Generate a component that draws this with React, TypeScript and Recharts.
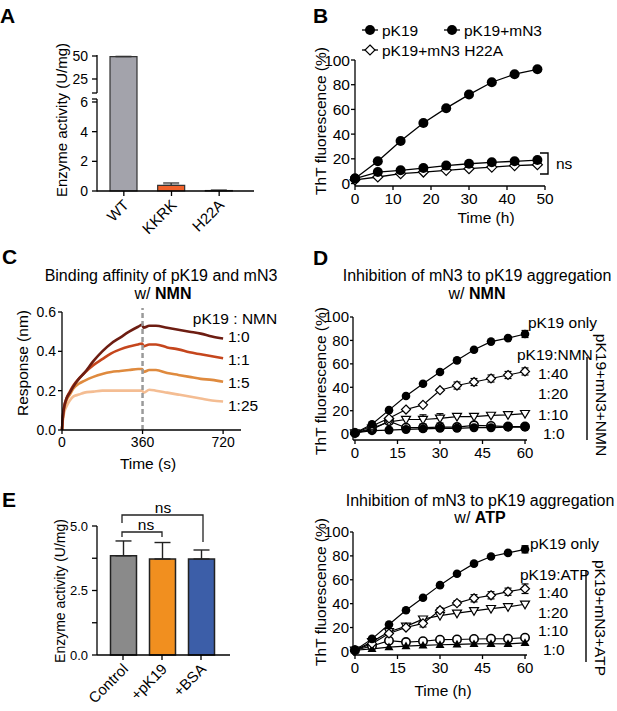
import React from 'react'
import { BarChart, Bar, Cell, XAxis, YAxis, ErrorBar, LineChart, Line, ReferenceLine } from 'recharts'

const FONT = '"Liberation Sans", Arial, Helvetica, sans-serif'

// ---- A: enzyme activity (broken y axis) ----
const aLabels = ['WT', 'KKRK', 'H22A']
const aValues = [49.3, 0.38, 0.03]
const aErrors = [0.3, 0.16, 0.03]
const aColors = ['#a3a3ab', '#f0612a', '#d0d0d0']
const aTicks = [0, 2, 4, 6, 25, 50]

// ---- B: ThT fluorescence ----
const bTime = [0, 6, 12, 18, 24, 30, 36, 42, 48]
const bPK19 = [4, 18, 34.5, 49, 61, 72, 82, 88.5, 92.5]
const bMN3 = [4, 9.3, 10.7, 12.5, 14.5, 16, 17.2, 18, 19]
const bH22A = [3, 5.3, 8, 9.3, 10.7, 12, 13.3, 14.5, 15.2]

// ---- C: binding response ----
const cTime = [0, 4, 10, 20, 35, 50, 75, 100, 140, 180, 220, 260, 300, 340, 358, 365, 390, 420, 470, 520, 570, 620, 670, 720]
const c10 = [0, 0.07, 0.12, 0.16, 0.19, 0.22, 0.26, 0.29, 0.35, 0.4, 0.44, 0.47, 0.5, 0.525, 0.535, 0.52, 0.53, 0.53, 0.52, 0.51, 0.5, 0.49, 0.475, 0.465]
const c11 = [0, 0.07, 0.12, 0.16, 0.195, 0.225, 0.26, 0.29, 0.33, 0.36, 0.39, 0.41, 0.425, 0.435, 0.44, 0.425, 0.435, 0.435, 0.42, 0.41, 0.395, 0.385, 0.375, 0.365]
const c15 = [0, 0.06, 0.11, 0.15, 0.18, 0.21, 0.235, 0.25, 0.27, 0.285, 0.295, 0.3, 0.305, 0.31, 0.31, 0.295, 0.305, 0.305, 0.29, 0.28, 0.27, 0.26, 0.255, 0.245]
const c125 = [0, 0.05, 0.09, 0.12, 0.15, 0.17, 0.18, 0.19, 0.195, 0.2, 0.2, 0.2, 0.2, 0.2, 0.2, 0.19, 0.205, 0.2, 0.19, 0.18, 0.17, 0.16, 0.15, 0.145]

// ---- D: inhibition with NMN / ATP ----
const dTime = [0, 6, 12, 18, 24, 30, 36, 42, 48, 54, 60]
const nOnly = [1, 8.5, 20.5, 32.5, 43, 53, 63, 72, 79, 82, 85.5]
const nOnlyErr = [0, 0, 0, 0, 0, 0, 0, 0, 0, 1, 3]
const n40 = [1, 7, 13.5, 21, 25, 37.5, 41.5, 44.5, 47.5, 50.5, 53.5]
const n40Err = [0, 0, 0, 0, 0, 1, 3, 3, 3, 3, 3]
const n20 = [1, 5, 10.5, 12.5, 12.5, 13.5, 15, 15, 16, 16.5, 17.5]
const n20Err = [0, 0, 0, 0, 4, 4, 0, 0, 0, 0, 0]
const n10 = [1, 4, 11, 5.5, 5.5, 6, 6, 7.5, 7, 6.5, 6.5]
const n10Err = [0, 0, 0, 0, 3, 2, 0, 2, 0, 0, 0]
const n0 = [1, 3, 3.5, 4, 4.5, 5, 5, 5.5, 5.5, 6, 6]

const tOnly = [1, 10.5, 22.5, 34.5, 45, 55.5, 65, 73.5, 79.5, 82.5, 85.5]
const tOnlyErr = [0, 0, 0, 0, 0, 0, 0, 0, 0, 1, 3]
const t40 = [1, 6.5, 15, 20, 23.5, 34.5, 40.5, 44.5, 47, 50, 52.5]
const t40Err = [0, 0, 1, 1, 3, 2, 2, 3, 3, 3, 4]
const t20 = [1, 8, 16.5, 21, 27, 30, 32, 34, 35.8, 37.3, 39.5]
const t20Err = [0, 0, 1, 1, 2, 0, 0, 0, 0, 0, 0]
const t10 = [1, 4.5, 9, 7.8, 8.5, 9.8, 10, 10.4, 10.6, 10.6, 11.5]
const t0 = [1, 2.2, 3.6, 4.5, 5, 5.6, 5.9, 6.3, 6.4, 6.4, 7.2]

// ---- E: enzyme activity ----
const eLabels = ['Control', '+pK19', '+BSA']
const eValues = [3.85, 3.72, 3.72]
const eErrors = [0.57, 0.64, 0.35]
const eColors = ['#8a8a8a', '#f18f1f', '#3c5ea8']

// broken axis: 0-6 linear, 25/50 compressed above the break
const brk = (v: number) => (v <= 6 ? v : 7.55 + (v - 25) * 0.062)

const aData = aLabels.map((name, i) => ({
  name,
  value: brk(aValues[i]),
  err: [0, brk(aValues[i] + aErrors[i]) - brk(aValues[i])],
}))
const bData = bTime.map((t, i) => ({ t, pk19: bPK19[i], mn3: bMN3[i], h22a: bH22A[i] }))
const cData = cTime.map((t, i) => ({ t, r0: c10[i], r1: c11[i], r5: c15[i], r25: c125[i] }))
const nmnData = dTime.map((t, i) => ({
  t, only: nOnly[i], onlyE: nOnlyErr[i], s40: n40[i], s40E: n40Err[i], s20: n20[i], s20E: n20Err[i],
  s10: n10[i], s10E: n10Err[i], s0: n0[i],
}))
const atpData = dTime.map((t, i) => ({
  t, only: tOnly[i], onlyE: tOnlyErr[i], s40: t40[i], s40E: t40Err[i], s20: t20[i], s20E: t20Err[i],
  s10: t10[i], s10E: 0, s0: t0[i],
}))
const eData = eLabels.map((name, i) => ({ name, value: eValues[i], err: [0, eErrors[i]] }))

const axLine = { stroke: '#000', strokeWidth: 1.3 }
const tick = (size: number) => ({ fill: '#000', fontSize: size, fontFamily: FONT })

type Kind = 'fill' | 'circle' | 'diamond' | 'triDown' | 'triUp'
const makeDot = (kind: Kind, r: number) => (p: any) => {
  const { cx, cy, index } = p
  const k = `d-${kind}-${index}`
  if (cx == null || cy == null) return <g key={k} />
  if (kind === 'fill') return <circle key={k} cx={cx} cy={cy} r={r} fill="#000" />
  if (kind === 'circle') return <circle key={k} cx={cx} cy={cy} r={r} fill="#fff" stroke="#000" strokeWidth={1.6} />
  if (kind === 'diamond')
    return <polygon key={k} points={`${cx},${cy - r} ${cx + r},${cy} ${cx},${cy + r} ${cx - r},${cy}`} fill="#fff" stroke="#000" strokeWidth={1.2} />
  if (kind === 'triDown')
    return <polygon key={k} points={`${cx - r},${cy - r * 0.7} ${cx + r},${cy - r * 0.7} ${cx},${cy + r}`} fill="#fff" stroke="#000" strokeWidth={1.2} />
  return <polygon key={k} points={`${cx},${cy - r} ${cx + r},${cy + r * 0.7} ${cx - r},${cy + r * 0.7}`} fill="#000" />
}

const rotTick = (p: any) => {
  const { x, y, payload } = p
  const px = x + 6
  const py = y + 8
  return (
    <text x={px} y={py} textAnchor="end" fontSize={15} fontFamily={FONT} fill="#000" transform={`rotate(-45 ${px} ${py})`}>
      {payload.value}
    </text>
  )
}

function DChart({ data, top, height, marginTop, xHeight, yMin, zeroKind }: any) {
  return (
    <div style={{ position: 'absolute', left: 300, top }}>
      <LineChart width={317} height={height} data={data} margin={{ top: marginTop, right: 90, bottom: 0, left: 0 }}>
        <XAxis type="number" dataKey="t" domain={[-0.7, 60.7]} ticks={[0, 15, 30, 45, 60]} height={xHeight}
          axisLine={axLine} tickLine={axLine} tickSize={4} tickMargin={3} tick={tick(15)} />
        <YAxis type="number" domain={[yMin, 100]} ticks={[0, 20, 40, 60, 80, 100]} width={53} interval={0}
          axisLine={axLine} tickLine={axLine} tickSize={3} tickMargin={1} tick={tick(15)} />
        <Line dataKey="s10" stroke="#000" strokeWidth={1.2} dot={makeDot('circle', 4.2)} isAnimationActive={false}>
          <ErrorBar dataKey="s10E" width={3.5} stroke="#000" strokeWidth={1.2} direction="y" />
        </Line>
        <Line dataKey="s0" stroke="#000" strokeWidth={1.2} dot={makeDot(zeroKind, 4.5)} isAnimationActive={false} />
        <Line dataKey="s20" stroke="#000" strokeWidth={1.2} dot={makeDot('triDown', 4.5)} isAnimationActive={false}>
          <ErrorBar dataKey="s20E" width={3.5} stroke="#000" strokeWidth={1.2} direction="y" />
        </Line>
        <Line dataKey="s40" stroke="#000" strokeWidth={1.2} dot={makeDot('diamond', 4.5)} isAnimationActive={false}>
          <ErrorBar dataKey="s40E" width={3.5} stroke="#000" strokeWidth={1.2} direction="y" />
        </Line>
        <Line dataKey="only" stroke="#000" strokeWidth={1.2} dot={makeDot('fill', 4.3)} isAnimationActive={false}>
          <ErrorBar dataKey="onlyE" width={3.5} stroke="#000" strokeWidth={1.2} direction="y" />
        </Line>
      </LineChart>
    </div>
  )
}

const T = (props: any) => <text fontFamily={FONT} fontSize={15.5} fill="#000" {...props} />

export default function App() {
  return (
    <div style={{ position: 'absolute', left: 0, top: 0, width: 617, height: 711, background: '#fff', fontFamily: FONT, overflow: 'hidden' }}>
      {/* A */}
      <div style={{ position: 'absolute', left: 0, top: 0 }}>
        <BarChart width={300} height={240} data={aData} margin={{ top: 56, right: 46, bottom: 0, left: 0 }} barSize={27}>
          <XAxis dataKey="name" height={49} interval={0} padding={{ left: 3, right: 11 }} tick={rotTick}
            axisLine={axLine} tickLine={axLine} tickSize={5} tickMargin={2} />
          <YAxis width={97} domain={[0, 9.1]} ticks={aTicks.map(brk)} interval={0} axisLine={false}
            tickFormatter={(v: number) => {
              const i = aTicks.findIndex((t) => Math.abs(brk(t) - v) < 1e-6)
              return i >= 0 ? String(aTicks[i]) : ''
            }}
            tickLine={axLine} tickSize={5} tickMargin={4} tick={tick(14)} />
          <Bar dataKey="value" stroke="#333" strokeWidth={1.2} isAnimationActive={false}>
            {aData.map((d, i) => <Cell key={d.name} fill={aColors[i]} />)}
            <ErrorBar dataKey="err" width={8} stroke="#333" strokeWidth={1.3} direction="y" />
          </Bar>
        </BarChart>
      </div>

      {/* B */}
      <div style={{ position: 'absolute', left: 300, top: 0 }}>
        <LineChart width={317} height={240} data={bData} margin={{ top: 60, right: 72, bottom: 0, left: 0 }}>
          <XAxis type="number" dataKey="t" domain={[0, 50]} ticks={[0, 10, 20, 30, 40, 50]} height={54}
            axisLine={axLine} tickLine={axLine} tickSize={4} tickMargin={3} tick={tick(15.5)} />
          <YAxis type="number" domain={[-2, 100]} ticks={[0, 20, 40, 60, 80, 100]} width={55} interval={0}
            axisLine={axLine} tickLine={axLine} tickSize={4} tickMargin={1} tick={tick(15.5)} />
          <Line dataKey="h22a" stroke="#000" strokeWidth={1.3} dot={makeDot('diamond', 5)} isAnimationActive={false} />
          <Line dataKey="mn3" stroke="#000" strokeWidth={1.3} dot={makeDot('fill', 5)} isAnimationActive={false} />
          <Line dataKey="pk19" stroke="#000" strokeWidth={1.3} dot={makeDot('fill', 5)} isAnimationActive={false} />
        </LineChart>
      </div>

      {/* C */}
      <div style={{ position: 'absolute', left: 0, top: 260 }}>
        <LineChart width={300} height={220} data={cData} margin={{ top: 52, right: 59, bottom: 0, left: 0 }}>
          <XAxis type="number" dataKey="t" domain={[0, 800]} ticks={[0, 360, 720]} height={50}
            axisLine={axLine} tickLine={axLine} tickSize={4} tickMargin={3} tick={tick(14)} />
          <YAxis type="number" domain={[0, 0.6]} ticks={[0, 0.2, 0.4, 0.6]} width={62} interval={0}
            tickFormatter={(v: number) => v.toFixed(1)}
            axisLine={axLine} tickLine={axLine} tickSize={4} tickMargin={2} tick={tick(14)} />
          <Line dataKey="r25" stroke="#f4bd93" strokeWidth={2.6} dot={false} type="monotone" isAnimationActive={false} />
          <Line dataKey="r5" stroke="#df8a3e" strokeWidth={2.6} dot={false} type="monotone" isAnimationActive={false} />
          <Line dataKey="r1" stroke="#c5461d" strokeWidth={2.6} dot={false} type="monotone" isAnimationActive={false} />
          <Line dataKey="r0" stroke="#6d1d12" strokeWidth={2.6} dot={false} type="monotone" isAnimationActive={false} />
          <ReferenceLine segment={[{ x: 360, y: 0 }, { x: 360, y: 0.62 }]} ifOverflow="visible"
            stroke="#9a9a9a" strokeWidth={2.5} strokeDasharray="5 3" />
        </LineChart>
      </div>

      {/* D */}
      <DChart data={nmnData} top={260} height={210} marginTop={57} xHeight={30} yMin={-5} zeroKind="fill" />
      <DChart data={atpData} top={480} height={231} marginTop={52} xHeight={56} yMin={-3} zeroKind="triUp" />

      {/* E */}
      <div style={{ position: 'absolute', left: 0, top: 480 }}>
        <BarChart width={300} height={231} data={eData} margin={{ top: 46, right: 70, bottom: 0, left: 0 }} barSize={26}>
          <XAxis dataKey="name" height={56} interval={0} padding={{ left: 6.5, right: 9.5 }} tick={rotTick}
            axisLine={axLine} tickLine={axLine} tickSize={5} tickMargin={2} />
          <YAxis width={97} domain={[0, 5]} ticks={[0, 1.25, 2.5, 3.75, 5]} interval={0}
            tickFormatter={(v: number) => (v % 2.5 === 0 ? v.toFixed(1) : '')}
            axisLine={axLine} tickLine={axLine} tickSize={5} tickMargin={4} tick={tick(13)} />
          <Bar dataKey="value" stroke="#222" strokeWidth={1.5} isAnimationActive={false}>
            {eData.map((d, i) => <Cell key={d.name} fill={eColors[i]} />)}
            <ErrorBar dataKey="err" width={8} stroke="#222" strokeWidth={1.4} direction="y" />
          </Bar>
        </BarChart>
      </div>

      {/* annotations */}
      <svg width={617} height={711} style={{ position: 'absolute', left: 0, top: 0, pointerEvents: 'none' }}>
        {/* panel letters */}
        <T x={0} y={23} fontSize={21} fontWeight="bold">A</T>
        <T x={313} y={23} fontSize={21} fontWeight="bold">B</T>
        <T x={2} y={264} fontSize={21} fontWeight="bold">C</T>
        <T x={313} y={265} fontSize={21} fontWeight="bold">D</T>
        <T x={2} y={507} fontSize={21} fontWeight="bold">E</T>

        {/* A */}
        <line x1={97} y1={55} x2={97} y2={93} stroke="#000" strokeWidth={1.3} />
        <line x1={97} y1={99} x2={97} y2={191.5} stroke="#000" strokeWidth={1.3} />
        <line x1={92} y1={93} x2={97} y2={93} stroke="#000" strokeWidth={1.3} />
        <line x1={92} y1={99} x2={97} y2={99} stroke="#000" strokeWidth={1.3} />
        <T transform="translate(61,120) rotate(-90)" fontSize={15} textAnchor="middle" dominantBaseline="central">Enzyme activity (U/mg)</T>

        {/* B */}
        <T transform="translate(320,121) rotate(-90)" textAnchor="middle" dominantBaseline="central">ThT fluorescence (%)</T>
        <T x={486} y={217} textAnchor="middle" dominantBaseline="central">Time (h)</T>
        <line x1={362} y1={30} x2={378} y2={30} stroke="#000" strokeWidth={1.3} />
        <circle cx={370} cy={30} r={5} fill="#000" />
        <T x={382} y={30} dominantBaseline="central">pK19</T>
        <line x1={444} y1={30} x2={460} y2={30} stroke="#000" strokeWidth={1.3} />
        <circle cx={452} cy={30} r={5} fill="#000" />
        <T x={464} y={30} dominantBaseline="central">pK19+mN3</T>
        <line x1={362} y1={50} x2={378} y2={50} stroke="#000" strokeWidth={1.3} />
        <polygon points="370,45 375,50 370,55 365,50" fill="#fff" stroke="#000" strokeWidth={1.2} />
        <T x={382} y={50} dominantBaseline="central">pK19+mN3 H22A</T>
        <path d="M540,153 H548 V174 H540" fill="none" stroke="#000" strokeWidth={1.4} />
        <T x={556} y={163} dominantBaseline="central">ns</T>

        {/* C */}
        <T x={161} y={275} fontSize={16} textAnchor="middle" dominantBaseline="central">Binding affinity of pK19 and mN3</T>
        <T x={163} y={293} fontSize={16} textAnchor="middle" dominantBaseline="central">w/ <tspan fontWeight="bold">NMN</tspan></T>
        <T transform="translate(22,363) rotate(-90)" textAnchor="middle" dominantBaseline="central">Response (nm)</T>
        <T x={148} y={463} textAnchor="middle" dominantBaseline="central">Time (s)</T>
        <T x={235} y={318} textAnchor="middle" dominantBaseline="central">pK19 : NMN</T>
        <T x={228} y={336} dominantBaseline="central">1:0</T>
        <T x={228} y={359} dominantBaseline="central">1:1</T>
        <T x={228} y={382} dominantBaseline="central">1:5</T>
        <T x={228} y={405} dominantBaseline="central">1:25</T>

        {/* D top */}
        <T x={477} y={275} fontSize={16} textAnchor="middle" dominantBaseline="central">Inhibition of mN3 to pK19 aggregation</T>
        <T x={477} y={293} fontSize={16} textAnchor="middle" dominantBaseline="central">w/ <tspan fontWeight="bold">NMN</tspan></T>
        <T transform="translate(320,381) rotate(-90)" textAnchor="middle" dominantBaseline="central">ThT fluorescence (%)</T>
        <T x={528} y={322} dominantBaseline="central">pK19 only</T>
        <T x={517} y={354} dominantBaseline="central">pK19:NMN</T>
        <T x={538} y={373} dominantBaseline="central">1:40</T>
        <T x={538} y={393} dominantBaseline="central">1:20</T>
        <T x={538} y={414} dominantBaseline="central">1:10</T>
        <T x={543} y={433} dominantBaseline="central">1:0</T>
        <line x1={587} y1={357} x2={587} y2={440} stroke="#000" strokeWidth={1.4} />
        <T transform="translate(601,395) rotate(90)" textAnchor="middle" dominantBaseline="central">pK19+mN3+NMN</T>

        {/* D bottom */}
        <T x={480} y={500} fontSize={16} textAnchor="middle" dominantBaseline="central">Inhibition of mN3 to pK19 aggregation</T>
        <T x={480} y={517} fontSize={16} textAnchor="middle" dominantBaseline="central">w/ <tspan fontWeight="bold">ATP</tspan></T>
        <T transform="translate(320,592) rotate(-90)" textAnchor="middle" dominantBaseline="central">ThT fluorescence (%)</T>
        <T x={443} y={690} textAnchor="middle" dominantBaseline="central">Time (h)</T>
        <T x={530} y={543} dominantBaseline="central">pK19 only</T>
        <T x={520} y={574} dominantBaseline="central">pK19:ATP</T>
        <T x={538} y={592} dominantBaseline="central">1:40</T>
        <T x={538} y={612} dominantBaseline="central">1:20</T>
        <T x={538} y={630} dominantBaseline="central">1:10</T>
        <T x={543} y={649} dominantBaseline="central">1:0</T>
        <line x1={586} y1={570} x2={586} y2={662} stroke="#000" strokeWidth={1.4} />
        <T transform="translate(600,618) rotate(90)" textAnchor="middle" dominantBaseline="central">pK19+mN3+ATP</T>

        {/* E */}
        <T transform="translate(60,591) rotate(-90)" fontSize={14} textAnchor="middle" dominantBaseline="central">Enzyme activity (U/mg)</T>
        <path d="M122,523 V515 H203 V542" fill="none" stroke="#222" strokeWidth={1.3} />
        <T x={163} y={507} textAnchor="middle" dominantBaseline="central">ns</T>
        <path d="M122,537 V532 H162 V537" fill="none" stroke="#222" strokeWidth={1.3} />
        <T x={146} y={524} textAnchor="middle" dominantBaseline="central">ns</T>
      </svg>
    </div>
  )
}
